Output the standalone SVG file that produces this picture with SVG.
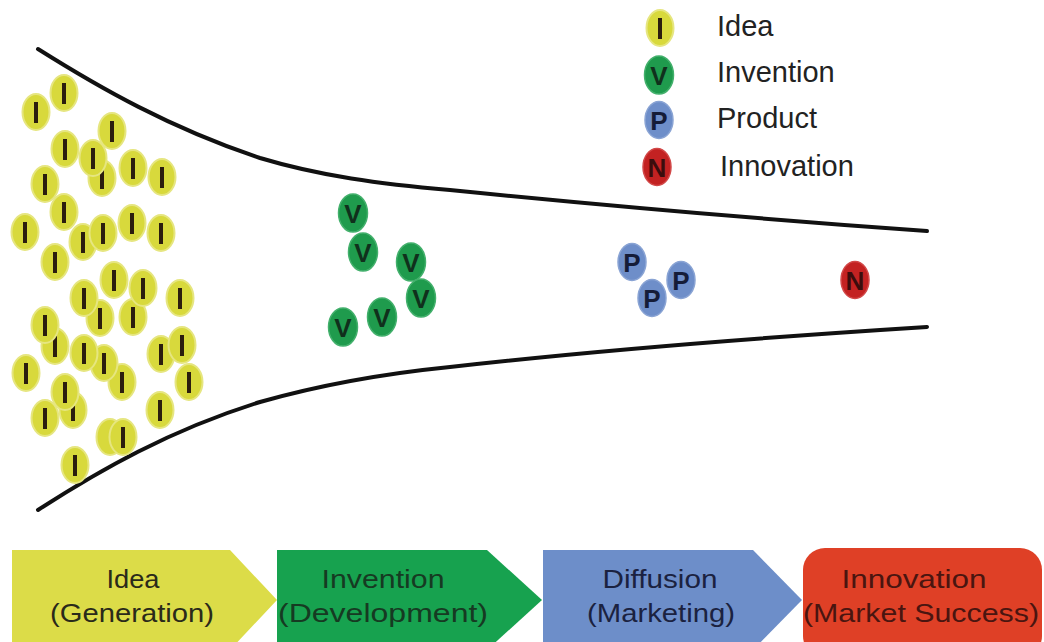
<svg xmlns="http://www.w3.org/2000/svg" xmlns:xlink="http://www.w3.org/1999/xlink" width="1044" height="642" viewBox="0 0 1044 642">
<style>
.funnel{fill:none;stroke:#111;stroke-width:4;stroke-linecap:round}
.tok-i{fill:#d8d93c;stroke:#e6e680;stroke-width:2}
.bar{fill:#2b1d0e}
.tok-v{fill:#1f9b4d;stroke:#43b06c;stroke-width:1.5}
.tok-p{fill:#6e8ec9;stroke:#8aa4d4;stroke-width:1.5}
.tok-n{fill:#c32222;stroke:#d24848;stroke-width:1.5}
.let{font-family:"Liberation Sans",Arial,sans-serif;font-weight:bold;font-size:26px;text-anchor:middle}
.leg{font-family:"Liberation Sans",Arial,sans-serif;font-size:29px;fill:#222}
.stage{font-family:"Liberation Sans",Arial,sans-serif;font-size:25px;text-anchor:middle}
</style>
<defs>
<g id="ti"><ellipse class="tok-i" cx="0" cy="0" rx="13.5" ry="18"/><rect class="bar" x="-2" y="-10" width="4" height="21"/></g>
<g id="tv"><ellipse class="tok-v" cx="0" cy="0" rx="14.5" ry="19"/><text class="let" x="0" y="9.5" fill="#10301c">V</text></g>
<g id="tp"><ellipse class="tok-p" cx="0" cy="0" rx="14" ry="18.5"/><text class="let" x="0" y="9.5" fill="#151c38">P</text></g>
<g id="tn"><ellipse class="tok-n" cx="0" cy="0" rx="14" ry="18.5"/><text class="let" x="0" y="9.5" fill="#3b0d0d">N</text></g>
</defs>

<g id="connectors">
<path class="funnel" d="M38,49 C100,88 170,128 260,158 C320,176 380,184 450,190 C600,205 800,222 927,231"/>
<path class="funnel" d="M38,510 C100,470 170,430 260,402 C320,385 380,374 450,367 C600,350 800,335 927,327"/>
</g>

<g id="ideas">
<use xlink:href="#ti" x="75" y="465"/>
<ellipse class="tok-i" cx="110" cy="437" rx="13.5" ry="18"/>
<use xlink:href="#ti" x="123" y="437"/>
<use xlink:href="#ti" x="45" y="418"/>
<use xlink:href="#ti" x="73" y="410"/>
<use xlink:href="#ti" x="160" y="410"/>
<use xlink:href="#ti" x="65" y="392"/>
<use xlink:href="#ti" x="122" y="382"/>
<use xlink:href="#ti" x="189" y="382"/>
<use xlink:href="#ti" x="26" y="373"/>
<use xlink:href="#ti" x="104" y="363"/>
<use xlink:href="#ti" x="84" y="353"/>
<use xlink:href="#ti" x="161" y="354"/>
<use xlink:href="#ti" x="55" y="346"/>
<use xlink:href="#ti" x="182" y="345"/>
<use xlink:href="#ti" x="45" y="325"/>
<use xlink:href="#ti" x="100" y="318"/>
<use xlink:href="#ti" x="133" y="317"/>
<use xlink:href="#ti" x="84" y="298"/>
<use xlink:href="#ti" x="180" y="298"/>
<use xlink:href="#ti" x="143" y="288"/>
<use xlink:href="#ti" x="114" y="280"/>
<use xlink:href="#ti" x="55" y="262"/>
<use xlink:href="#ti" x="83" y="242"/>
<use xlink:href="#ti" x="25" y="232"/>
<use xlink:href="#ti" x="103" y="233"/>
<use xlink:href="#ti" x="161" y="233"/>
<use xlink:href="#ti" x="132" y="223"/>
<use xlink:href="#ti" x="64" y="212"/>
<use xlink:href="#ti" x="45" y="184"/>
<use xlink:href="#ti" x="102" y="178"/>
<use xlink:href="#ti" x="162" y="177"/>
<use xlink:href="#ti" x="133" y="168"/>
<use xlink:href="#ti" x="93" y="158"/>
<use xlink:href="#ti" x="65" y="149"/>
<use xlink:href="#ti" x="112" y="131"/>
<use xlink:href="#ti" x="36" y="112"/>
<use xlink:href="#ti" x="64" y="93"/>
</g>

<g id="inventions">
<use xlink:href="#tv" x="353" y="213"/>
<use xlink:href="#tv" x="363" y="252"/>
<use xlink:href="#tv" x="411" y="262"/>
<use xlink:href="#tv" x="421" y="298"/>
<use xlink:href="#tv" x="382" y="317"/>
<use xlink:href="#tv" x="343" y="327"/>
</g>

<g id="products">
<use xlink:href="#tp" x="632" y="262"/>
<use xlink:href="#tp" x="681" y="280"/>
<use xlink:href="#tp" x="652" y="298"/>
</g>

<g id="innovation">
<use xlink:href="#tn" x="855" y="280"/>
</g>

<g id="legend">
<g id="legend-idea"><use xlink:href="#ti" x="660" y="28"/><text class="leg" x="717" y="36">Idea</text></g>
<g id="legend-invention"><use xlink:href="#tv" x="659" y="75"/><text class="leg" x="717" y="82">Invention</text></g>
<g id="legend-product"><use xlink:href="#tp" x="659" y="120"/><text class="leg" x="717" y="128">Product</text></g>
<g id="legend-innovation"><use xlink:href="#tn" x="657" y="167"/><text class="leg" x="720" y="176">Innovation</text></g>
</g>

<g id="stage-idea">
<polygon points="12,550 230,550 277,600 230,650 12,650" fill="#dcdc48"/>
<text class="stage" x="133" y="588" textLength="53" lengthAdjust="spacingAndGlyphs" fill="#2a2a1a">Idea</text>
<text class="stage" x="132" y="622" textLength="164" lengthAdjust="spacingAndGlyphs" fill="#2a2a1a">(Generation)</text>
</g>
<g id="stage-invention">
<polygon points="277,550 487,550 542,600 487,650 277,650" fill="#17a24f"/>
<text class="stage" x="383" y="588" textLength="123" lengthAdjust="spacingAndGlyphs" fill="#163a22">Invention</text>
<text class="stage" x="383" y="622" textLength="210" lengthAdjust="spacingAndGlyphs" fill="#163a22">(Development)</text>
</g>
<g id="stage-diffusion">
<polygon points="543,550 753,550 802,600 753,650 543,650" fill="#6d8ec9"/>
<text class="stage" x="660" y="588" textLength="115" lengthAdjust="spacingAndGlyphs" fill="#1b2240">Diffusion</text>
<text class="stage" x="661" y="622" textLength="148" lengthAdjust="spacingAndGlyphs" fill="#1b2240">(Marketing)</text>
</g>
<g id="stage-innovation">
<rect x="803" y="548" width="239" height="110" rx="22" fill="#df4026"/>
<text class="stage" x="914" y="588" textLength="145" lengthAdjust="spacingAndGlyphs" fill="#4a1510">Innovation</text>
<text class="stage" x="921" y="622" textLength="236" lengthAdjust="spacingAndGlyphs" fill="#4a1510">(Market Success)</text>
</g>
</svg>
